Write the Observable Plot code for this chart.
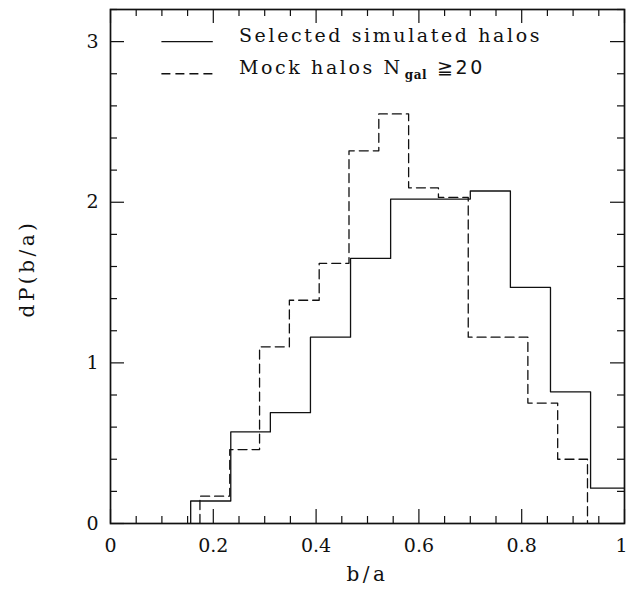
<!DOCTYPE html>
<html>
<head>
<meta charset="utf-8">
<script src="https://cdn.jsdelivr.net/npm/d3@7"></script>
<script src="https://cdn.jsdelivr.net/npm/@observablehq/plot@0.6"></script>
<style>
  html, body { margin: 0; padding: 0; background: #fff; }
  #chart { width: 627px; height: 590px; }
  #chart svg { display: block; }
</style>
</head>
<body>
<div id="chart"></div>
<script>
// ---- data ----
const simEdges   = [0.156, 0.234, 0.311, 0.389, 0.467, 0.545, 0.623, 0.700, 0.778, 0.856, 0.934, 1.012];
const simValues  = [0.14, 0.57, 0.69, 1.16, 1.65, 2.02, 2.02, 2.07, 1.47, 0.82, 0.22];
const mockEdges  = [0.174, 0.232, 0.290, 0.348, 0.406, 0.464, 0.522, 0.580, 0.638, 0.696, 0.754, 0.812, 0.870, 0.928];
const mockValues = [0.17, 0.46, 1.10, 1.39, 1.62, 2.32, 2.55, 2.09, 2.03, 1.16, 1.16, 0.75, 0.40];
const xTickLabels = [0, 0.2, 0.4, 0.6, 0.8, 1];
const yTickLabels = [0, 1, 2, 3];
const xMinorStep = 0.05;
const yMinorStep = 0.2;
const legendLabels = ["Selected simulated halos", "Mock halos N"];
const legendSub = "gal";
const legendTail = "\u226720";
const legendY = [3.0, 2.8];
const xTitle = "b/a";
const yTitle = "dP(b/a)";

// ---- build ----
function stepPoints(edges, values) {
  const pts = [{x: edges[0], y: 0}];
  values.forEach((v, i) => pts.push({x: edges[i], y: v}));
  pts.push({x: edges[edges.length - 1], y: values[values.length - 1]});
  pts.push({x: edges[edges.length - 1], y: 0});
  return pts;
}
const simPts = stepPoints(simEdges, simValues);
const mockPts = stepPoints(mockEdges, mockValues);

const xDomain = [0, 1];
const yDomain = [0, 3.2];
const xMinor = d3.range(0, 21).map(i => +(i * xMinorStep).toFixed(3)).filter(v => !xTickLabels.includes(v));
const yMinor = d3.range(0, 17).map(i => +(i * yMinorStep).toFixed(3)).filter(v => !yTickLabels.includes(v));
const xMajor = xTickLabels;
const yMajor = yTickLabels;

const FONT = "'DejaVu Serif', 'Liberation Serif', serif";
const ink = "#111";
const MAJ = 14, MIN = 7;

const marks = [
  // histograms
  Plot.line(simPts, {x: "x", y: "y", curve: "step-after", stroke: ink, strokeWidth: 1.3, clip: true}),
  Plot.line(mockPts, {x: "x", y: "y", curve: "step-after", stroke: ink, strokeWidth: 1.3, strokeDasharray: "9,5", clip: true}),
  // ticks bottom/top
  Plot.ruleX(xMajor, {x: d => d, y1: yDomain[0], y2: yDomain[0], insetTop: -MAJ, stroke: ink, strokeWidth: 1.2}),
  Plot.ruleX(xMinor, {x: d => d, y1: yDomain[0], y2: yDomain[0], insetTop: -MIN, stroke: ink, strokeWidth: 1.2}),
  Plot.ruleX(xMajor, {x: d => d, y1: yDomain[1], y2: yDomain[1], insetBottom: -MAJ, stroke: ink, strokeWidth: 1.2}),
  Plot.ruleX(xMinor, {x: d => d, y1: yDomain[1], y2: yDomain[1], insetBottom: -MIN, stroke: ink, strokeWidth: 1.2}),
  // ticks left/right
  Plot.ruleY(yMajor, {y: d => d, x1: xDomain[0], x2: xDomain[0], insetRight: -MAJ, stroke: ink, strokeWidth: 1.2}),
  Plot.ruleY(yMinor, {y: d => d, x1: xDomain[0], x2: xDomain[0], insetRight: -MIN, stroke: ink, strokeWidth: 1.2}),
  Plot.ruleY(yMajor, {y: d => d, x1: xDomain[1], x2: xDomain[1], insetLeft: -MAJ, stroke: ink, strokeWidth: 1.2}),
  Plot.ruleY(yMinor, {y: d => d, x1: xDomain[1], x2: xDomain[1], insetLeft: -MIN, stroke: ink, strokeWidth: 1.2}),
  // frame
  Plot.frame({stroke: ink, strokeWidth: 1.7}),
  // tick labels
  Plot.text(xTickLabels.slice(0, -1), {x: d => d, y: yDomain[0], dy: 22, text: d => String(d), fontSize: 19, fill: ink, fontFamily: FONT}),
  Plot.text(xTickLabels.slice(-1), {x: d => d, y: yDomain[0], dy: 22, dx: -3, text: d => String(d), fontSize: 19, fill: ink, fontFamily: FONT}),
  Plot.text(yTickLabels, {x: xDomain[0], y: d => d, dx: -12, textAnchor: "end", text: d => String(d), fontSize: 19, fill: ink, fontFamily: FONT}),
  // axis titles
  Plot.text([xTitle], {frameAnchor: "bottom", dy: 57, textAnchor: "middle", text: d => d, fontSize: 20, fill: ink, fontFamily: FONT, className: "spaced"}),
  Plot.text([yTitle], {frameAnchor: "left", dx: -83, dy: 2, rotate: -90, textAnchor: "middle", text: d => d, fontSize: 20, fill: ink, fontFamily: FONT, className: "spaced"}),
  // legend
  Plot.ruleY([legendY[0]], {y: d => d, x1: 0.1, x2: 0.2, stroke: ink, strokeWidth: 1.3}),
  Plot.ruleY([legendY[1]], {y: d => d, x1: 0.1, x2: 0.2, stroke: ink, strokeWidth: 1.3, strokeDasharray: "9,5"}),
  Plot.text([0, 1], {x: 0.25, y: i => legendY[i], text: i => legendLabels[i], textAnchor: "start", lineAnchor: "bottom",
    fontSize: 19, fill: ink, fontFamily: FONT, className: "legendtxt"})
];

const chart = Plot.plot({
  width: 627,
  height: 590,
  marginLeft: 110,
  marginRight: 3,
  marginTop: 9,
  marginBottom: 67,
  x: {domain: xDomain, axis: null},
  y: {domain: yDomain, axis: null},
  style: {background: "#fff", fontFamily: FONT},
  marks
});

const svg = d3.select(chart);
svg.selectAll("g.spaced text").style("letter-spacing", "3.5px");
svg.selectAll("g.legendtxt text").style("letter-spacing", "2.6px");
svg.selectAll("g.legendtxt text").filter(function() { return this.textContent === legendLabels[1]; })
  .each(function() {
    const t = d3.select(this);
    t.append("tspan").attr("font-size", 12).attr("dx", 2).attr("dy", 5).style("letter-spacing", "0.5px").attr("font-weight", "bold").text(legendSub);
    t.append("tspan").attr("dx", 10).attr("dy", -5).attr("font-family", "'DejaVu Sans', sans-serif").text(legendTail);
  });

document.getElementById("chart").appendChild(chart);
</script>
</body>
</html>
